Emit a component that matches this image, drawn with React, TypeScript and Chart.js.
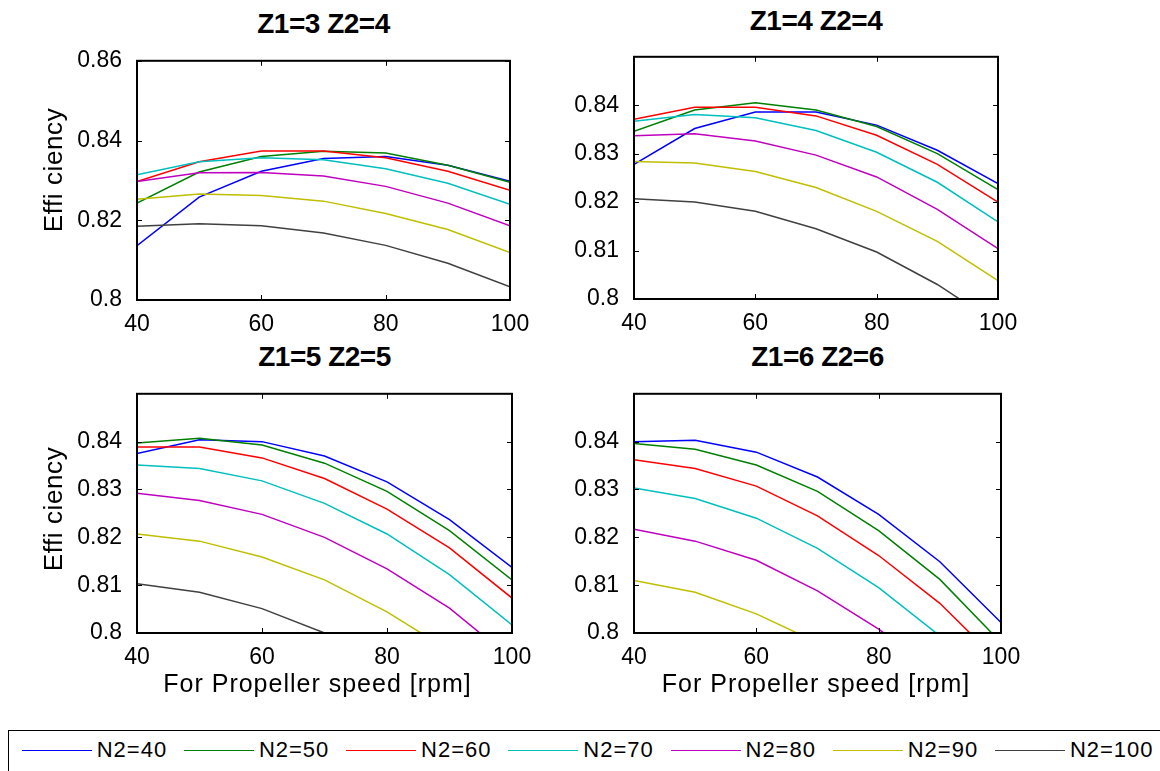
import React, { useEffect, useRef } from "react";
import { Chart, registerables } from "chart.js";

Chart.register(...registerables);

// ---------- data ----------
const SPEED = [40, 50, 60, 70, 80, 90, 100];
const SERIES_LABELS = ["N2=40", "N2=50", "N2=60", "N2=70", "N2=80", "N2=90", "N2=100"];
const COLORS = ["#0000FF", "#008000", "#FF0000", "#00BFBF", "#BF00BF", "#BFBF00", "#404040"];
const X_TICKS = [40, 60, 80, 100];
const Y_TICKS_WIDE = [0.8, 0.82, 0.84, 0.86];
const Y_TICKS_FINE = [0.8, 0.81, 0.82, 0.83, 0.84];

// Efficiency, rows = N2=40..100, columns = SPEED
const EFF_Z1_3_Z2_4 = [
  [0.8136, 0.8258, 0.8323, 0.8355, 0.836, 0.8338, 0.8298],
  [0.8243, 0.8321, 0.836, 0.8373, 0.8369, 0.8338, 0.8295],
  [0.8297, 0.8347, 0.8374, 0.8374, 0.8357, 0.8323, 0.8275],
  [0.8314, 0.8347, 0.8357, 0.8352, 0.8329, 0.8293, 0.824],
  [0.8297, 0.8319, 0.832, 0.8311, 0.8285, 0.8243, 0.8186],
  [0.8253, 0.8266, 0.8262, 0.8248, 0.8217, 0.8177, 0.8119],
  [0.8185, 0.8191, 0.8186, 0.8168, 0.8137, 0.8092, 0.8033],
];
const EFF_Z1_4_Z2_4 = [
  [0.8278, 0.8352, 0.8386, 0.8386, 0.8359, 0.8307, 0.8238],
  [0.8346, 0.839, 0.8405, 0.839, 0.8356, 0.83, 0.8226],
  [0.8371, 0.8396, 0.8396, 0.8378, 0.8338, 0.8278, 0.82],
  [0.8367, 0.8381, 0.8374, 0.8348, 0.8303, 0.8241, 0.8159],
  [0.8337, 0.8341, 0.8326, 0.8297, 0.8252, 0.8185, 0.8104],
  [0.8284, 0.8281, 0.8263, 0.823, 0.8181, 0.8119, 0.8038],
  [0.8207, 0.82, 0.8181, 0.8145, 0.8097, 0.803, 0.7948],
];
const EFF_Z1_5_Z2_5 = [
  [0.8375, 0.8404, 0.84, 0.837, 0.8316, 0.8237, 0.8137],
  [0.8397, 0.8407, 0.8393, 0.8355, 0.8296, 0.8214, 0.8111],
  [0.8389, 0.8389, 0.8366, 0.8323, 0.8259, 0.8178, 0.8073],
  [0.8351, 0.8344, 0.8318, 0.8271, 0.8207, 0.8122, 0.8017],
  [0.8292, 0.8277, 0.8248, 0.82, 0.8134, 0.8052, 0.7945],
  [0.8207, 0.8192, 0.8159, 0.8111, 0.8044, 0.7963, 0.7865],
  [0.8103, 0.8085, 0.8051, 0.8, 0.7935, 0.786, 0.777],
];
const EFF_Z1_6_Z2_6 = [
  [0.84, 0.8403, 0.8378, 0.8326, 0.8248, 0.8149, 0.8022],
  [0.8396, 0.8384, 0.8351, 0.8296, 0.8214, 0.8112, 0.798],
  [0.8362, 0.8344, 0.8307, 0.8245, 0.8162, 0.8062, 0.7936],
  [0.8303, 0.8281, 0.824, 0.8177, 0.8095, 0.7994, 0.788],
  [0.8217, 0.8192, 0.8152, 0.8088, 0.8008, 0.7915, 0.781],
  [0.811, 0.8085, 0.804, 0.798, 0.791, 0.783, 0.774],
  [0.798, 0.796, 0.791, 0.785, 0.778, 0.769, 0.759],
];

const TITLES = ["Z1=3 Z2=4", "Z1=4 Z2=4", "Z1=5 Z2=5", "Z1=6 Z2=6"];
const Y_LABEL = "Effi ciency";
const X_LABEL = "For Propeller speed [rpm]";

// ---------- layout ----------
const FONT = "'Liberation Sans', Arial, Helvetica, sans-serif";
const AXIS_W = 70;
const AXIS_H = 40;
const PAD_T = 20;
const PAD_R = 30;

type Area = { l: number; t: number; r: number; b: number };
type PanelDef = { title: string; data: number[][]; yTicks: number[]; yMax: number; area: Area; titleTop: number };

const PANELS: PanelDef[] = [
  { title: TITLES[0], data: EFF_Z1_3_Z2_4, yTicks: Y_TICKS_WIDE, yMax: 0.86, area: { l: 137, t: 60, r: 510, b: 300 }, titleTop: 10 },
  { title: TITLES[1], data: EFF_Z1_4_Z2_4, yTicks: Y_TICKS_FINE, yMax: 0.85, area: { l: 634, t: 56, r: 998, b: 299 }, titleTop: 6.5 },
  { title: TITLES[2], data: EFF_Z1_5_Z2_5, yTicks: Y_TICKS_FINE, yMax: 0.85, area: { l: 137, t: 393, r: 512, b: 633 }, titleTop: 343 },
  { title: TITLES[3], data: EFF_Z1_6_Z2_6, yTicks: Y_TICKS_FINE, yMax: 0.85, area: { l: 634, t: 393, r: 1001, b: 633 }, titleTop: 343 },
];

const boxPlugin = {
  id: "matlabBox",
  afterDatasetsDraw(chart: any) {
    const { ctx, chartArea: a, scales } = chart;
    ctx.save();
    ctx.strokeStyle = "#000";
    ctx.lineWidth = 1;
    const TL = 5;
    ctx.beginPath();
    for (const t of scales.x.ticks) {
      const px = Math.round(scales.x.getPixelForValue(t.value)) + 0.5;
      ctx.moveTo(px, a.bottom);
      ctx.lineTo(px, a.bottom - TL);
      ctx.moveTo(px, a.top);
      ctx.lineTo(px, a.top + TL);
    }
    for (const t of scales.y.ticks) {
      const py = Math.round(scales.y.getPixelForValue(t.value)) + 0.5;
      ctx.moveTo(a.left, py);
      ctx.lineTo(a.left + TL, py);
      ctx.moveTo(a.right, py);
      ctx.lineTo(a.right - TL, py);
    }
    ctx.stroke();
    ctx.lineWidth = 2;
    ctx.strokeRect(a.left, a.top, a.right - a.left, a.bottom - a.top);
    ctx.restore();
  },
};

function Panel({ def }: { def: PanelDef }) {
  const ref = useRef<HTMLCanvasElement | null>(null);
  const { area } = def;
  const w = area.r - area.l + AXIS_W + PAD_R;
  const h = area.b - area.t + PAD_T + AXIS_H;
  const left = area.l - AXIS_W;
  const top = area.t - PAD_T;

  useEffect(() => {
    if (!ref.current) return;
    const n = def.data.length;
    const tickFont = { family: FONT, size: 23 };
    const chart = new Chart(ref.current, {
      type: "line",
      data: {
        datasets: def.data.map((row, i) => ({
          label: SERIES_LABELS[i],
          data: SPEED.map((x, j) => ({ x, y: row[j] })),
          borderColor: COLORS[i],
          backgroundColor: COLORS[i],
          borderWidth: 1.5,
          pointRadius: 0,
          fill: false,
          tension: 0,
          order: n - i,
        })),
      },
      options: {
        responsive: false,
        animation: false,
        devicePixelRatio: 1,
        events: [],
        layout: { padding: { left: 0, top: PAD_T, right: PAD_R, bottom: 0 } },
        plugins: { legend: { display: false }, tooltip: { enabled: false }, title: { display: false } },
        scales: {
          x: {
            type: "linear",
            min: 40,
            max: 100,
            afterBuildTicks: (s: any) => {
              s.ticks = X_TICKS.map((v) => ({ value: v }));
            },
            afterFit: (s: any) => {
              s.height = AXIS_H;
            },
            grid: { display: false },
            border: { display: false },
            ticks: {
              padding: 3,
              color: "#000",
              font: tickFont,
              maxRotation: 0,
              autoSkip: false,
              callback: (v: any) => String(v),
            },
          },
          y: {
            type: "linear",
            min: 0.8,
            max: def.yMax,
            afterBuildTicks: (s: any) => {
              s.ticks = def.yTicks.map((v) => ({ value: v }));
            },
            afterFit: (s: any) => {
              s.width = AXIS_W;
            },
            grid: { display: false },
            border: { display: false },
            ticks: {
              padding: 7,
              color: "#000",
              font: tickFont,
              autoSkip: false,
              callback: (v: any) => String(Number(Number(v).toFixed(4))),
            },
          },
        },
      } as any,
      plugins: [boxPlugin],
    });
    return () => chart.destroy();
  }, [def]);

  return (
    <canvas
      ref={ref}
      width={w}
      height={h}
      style={{ position: "absolute", left, top, width: w, height: h }}
    />
  );
}

const textBase: React.CSSProperties = {
  position: "absolute",
  fontFamily: FONT,
  color: "#000",
  whiteSpace: "nowrap",
  textAlign: "center",
};

export default function App() {
  const legendX0 = 21.7;
  const legendStep = 162.2;
  return (
    <div style={{ position: "absolute", left: 0, top: 0, width: 1160, height: 771, overflow: "hidden", background: "#fff" }}>
      {PANELS.map((p, i) => (
        <Panel key={i} def={p} />
      ))}
      {PANELS.map((p, i) => {
        const cx = (p.area.l + p.area.r) / 2;
        return (
          <div
            key={"t" + i}
            style={{
              ...textBase,
              left: cx - 150,
              width: 300,
              top: p.titleTop,
              fontSize: 28,
              lineHeight: "28px",
              fontWeight: "bold",
              letterSpacing: "-0.5px",
            }}
          >
            {p.title}
          </div>
        );
      })}
      {[170, 509].map((cy, i) => (
        <div
          key={"y" + i}
          style={{
            ...textBase,
            left: 53 - 100,
            top: cy - 13,
            width: 200,
            height: 26,
            fontSize: 26,
            lineHeight: "26px",
            letterSpacing: "0.6px",
            transform: "rotate(-90deg)",
            transformOrigin: "50% 50%",
          }}
        >
          {Y_LABEL}
        </div>
      ))}
      {[317.5, 816].map((cx, i) => (
        <div
          key={"x" + i}
          style={{
            ...textBase,
            left: cx - 200,
            width: 400,
            top: 670.5,
            fontSize: 25,
            lineHeight: "25px",
            letterSpacing: "1px",
          }}
        >
          {X_LABEL}
        </div>
      ))}
      <div
        style={{
          position: "absolute",
          left: 8,
          top: 730,
          width: 1180,
          height: 80,
          border: "1.5px solid #000",
          boxSizing: "border-box",
        }}
      />
      {SERIES_LABELS.map((lab, i) => {
        const x0 = legendX0 + i * legendStep;
        return (
          <React.Fragment key={"l" + i}>
            <div style={{ position: "absolute", left: x0, top: 749.5, width: 70, height: 1.5, background: COLORS[i] }} />
            <div
              style={{
                ...textBase,
                textAlign: "left",
                left: x0 + 75,
                top: 739,
                fontSize: 22,
                lineHeight: "22px",
                letterSpacing: "1px",
              }}
            >
              {lab}
            </div>
          </React.Fragment>
        );
      })}
    </div>
  );
}
